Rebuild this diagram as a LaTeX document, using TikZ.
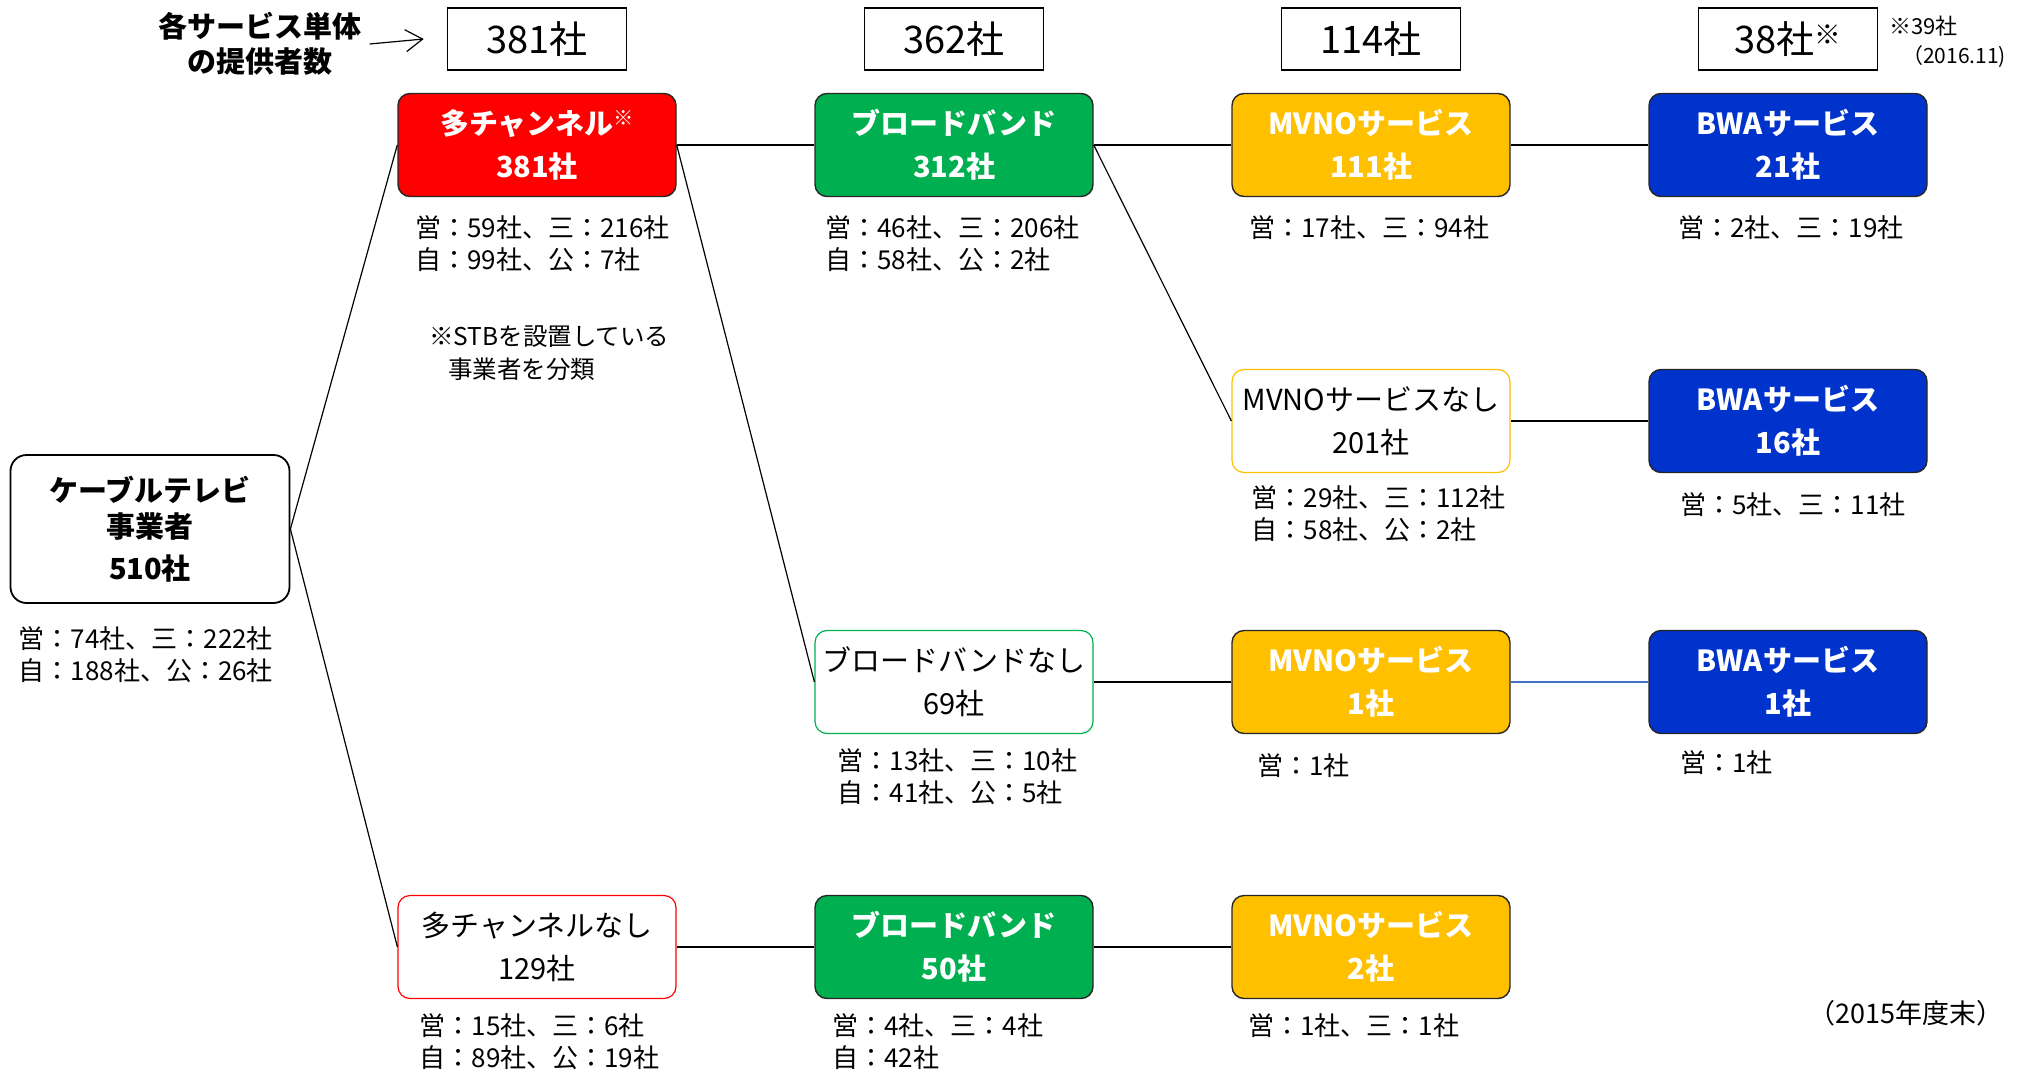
\documentclass[tikz,border=0pt]{standalone}
\usepackage{fontspec}
\setmainfont{Noto Sans CJK JP}
\usetikzlibrary{positioning,arrows.meta}
\definecolor{catRed}{HTML}{FF0000}
\definecolor{catGreen}{HTML}{00B050}
\definecolor{catYellow}{HTML}{FFC000}
\definecolor{catBlue}{HTML}{0033CC}
\definecolor{catEdge}{HTML}{262626}
\definecolor{catLink}{HTML}{4472C4}
\tikzset{
   catRoot/.style = {
         rectangle,
         draw,
         align = center,
         rounded corners = 16pt,
         line width = 1.8pt,
         minimum width = 279pt,
         minimum height = 148pt,
         font = \bfseries\fontsize{29}{36}\selectfont,
      },
   catBox/.style = {
         rectangle,
         draw = catEdge,
         align = center,
         rounded corners = 12pt,
         line width = 1.4pt,
         minimum width = 278pt,
         minimum height = 103pt,
         text = white,
         font = \bfseries\fontsize{29}{43}\selectfont,
      },
   catMulti/.style = {catBox, fill = catRed},
   catBroad/.style = {catBox, fill = catGreen},
   catMvno/.style = {catBox, fill = catYellow},
   catBwa/.style = {catBox, fill = catBlue},
   catNone/.style = {
         catBox,
         fill = white,
         text = black,
         font = \fontsize{29}{43}\selectfont,
      },
   catHead/.style = {
         rectangle,
         draw,
         line width = 1.6pt,
         minimum width = 179pt,
         minimum height = 62pt,
         font = \fontsize{38}{40}\selectfont,
      },
   catCount/.style = {
         align = left,
         inner sep = 0pt,
         font = \fontsize{26}{32}\selectfont,
      },
   catNote/.style = {
         align = left,
         inner sep = 0pt,
         font = \fontsize{24.5}{33}\selectfont,
      },
   catLine/.style = {
         draw,
         line width = 1.2pt,
      },
}
\newcommand{\catMark}{\textsuperscript{※}}

\begin{document}
\begin{tikzpicture}[x=1pt, y=-1pt, node distance = 417pt]
\useasboundingbox (0,0) rectangle (2026,1070);

% Place nodes
\node [catRoot] (cable) at (150,529) {ケーブルテレビ\\事業者\\[6pt]510社};

\node [catMulti] (multi) at (537,145) {多チャンネル\catMark\\381社};
\node [catBroad, right of =multi] (broadA) {ブロードバンド\\312社};
\node [catMvno, right of =broadA] (mvnoA) {MVNOサービス\\111社};
\node [catBwa, right of =mvnoA] (bwaA) {BWAサービス\\21社};

\node [catNone, draw=catYellow, line width=1.2pt] (mvnoNo) at (1371,421) {MVNOサービスなし\\201社};
\node [catBwa, right of =mvnoNo] (bwaB) {BWAサービス\\16社};

\node [catNone, draw=catGreen, line width=1.2pt] (broadNo) at (954,682) {ブロードバンドなし\\69社};
\node [catMvno, right of =broadNo] (mvnoC) {MVNOサービス\\1社};
\node [catBwa, right of =mvnoC] (bwaC) {BWAサービス\\1社};

\node [catNone, draw=catRed, line width=1.2pt] (multiNo) at (537,947) {多チャンネルなし\\129社};
\node [catBroad, right of =multiNo] (broadD) {ブロードバンド\\50社};
\node [catMvno, right of =broadD] (mvnoD) {MVNOサービス\\2社};

% header counts
\node [catHead] (hdr-multi) at (537,39) {381社};
\node [catHead, right of =hdr-multi] (hdr-broad) {362社};
\node [catHead, right of =hdr-broad] (hdr-mvno) {114社};
\node [catHead, right of =hdr-mvno] (hdr-bwa) {38社\catMark};

\node [align=center, inner sep=2pt, font=\bfseries\fontsize{29}{35}\selectfont]
	(count-label) at (260,44) {各サービス単体\\の提供者数};
\coordinate [right=6pt of count-label.east] (count-tail);
\coordinate [left=23pt of hdr-multi.west] (count-tip);

% counts by operator type
\node [catCount, below right=23pt and 9pt of cable.south west] (cable-cnt)
	{営：74社、三：222社\\自：188社、公：26社};
\node [catCount, below right=18pt and 18pt of multi.south west] (multi-cnt)
	{営：59社、三：216社\\自：99社、公：7社};
\node [catCount, below right=18pt and 11pt of broadA.south west] (broadA-cnt)
	{営：46社、三：206社\\自：58社、公：2社};
\node [catCount, below right=18pt and 18pt of mvnoA.south west] (mvnoA-cnt)
	{営：17社、三：94社};
\node [catCount, below right=18pt and 30pt of bwaA.south west] (bwaA-cnt)
	{営：2社、三：19社};
\node [catCount, below right=12pt and 20pt of mvnoNo.south west] (mvnoNo-cnt)
	{営：29社、三：112社\\自：58社、公：2社};
\node [catCount, below right=19pt and 32pt of bwaB.south west] (bwaB-cnt)
	{営：5社、三：11社};
\node [catCount, below right=14pt and 23pt of broadNo.south west] (broadNo-cnt)
	{営：13社、三：10社\\自：41社、公：5社};
\node [catCount, below right=19pt and 26pt of mvnoC.south west] (mvnoC-cnt)
	{営：1社};
\node [catCount, below right=16pt and 32pt of bwaC.south west] (bwaC-cnt)
	{営：1社};
\node [catCount, below right=14pt and 22pt of multiNo.south west] (multiNo-cnt)
	{営：15社、三：6社\\自：89社、公：19社};
\node [catCount, below right=14pt and 18pt of broadD.south west] (broadD-cnt)
	{営：4社、三：4社\\自：42社};
\node [catCount, below right=14pt and 17pt of mvnoD.south west] (mvnoD-cnt)
	{営：1社、三：1社};

% notes
\node [catNote, anchor=north west] (stb-note) at (429,326)
	{※STBを設置している\\\hspace*{19pt}事業者を分類};
\node [catNote, anchor=west, font=\fontsize{22}{24}\selectfont] (bwa-note) at (1889,26) {※39社};
\node [catNote, anchor=west, font=\fontsize{21}{24}\selectfont] (bwa-date) at (1902,57) {（2016.11)};
\node [catNote, font=\fontsize{27}{30}\selectfont] (year-note) at (1906,1013) {（2015年度末）};


% Draw edges
\path [draw, line width=1.2pt, -{Straight Barb[length=17pt,width=22pt]}] (count-tail) -- (count-tip);

\path [catLine] (cable.east) -- (multi.west);
\path [catLine] (cable.east) -- (multiNo.west);

\path [catLine] (multi.east) -- (broadA.west);
\path [catLine] (multi.east) -- (broadNo.west);

\path [catLine] (broadA.east) -- (mvnoA.west);
\path [catLine] (broadA.east) -- (mvnoNo.west);

\path [catLine] (mvnoA) -- (bwaA);
\path [catLine] (mvnoNo) -- (bwaB);

\path [catLine] (broadNo) -- (mvnoC);
\path [catLine, draw=catLink] (mvnoC) -- (bwaC);

\path [catLine] (multiNo) -- (broadD);
\path [catLine] (broadD) -- (mvnoD);

\end{tikzpicture}
\end{document}
